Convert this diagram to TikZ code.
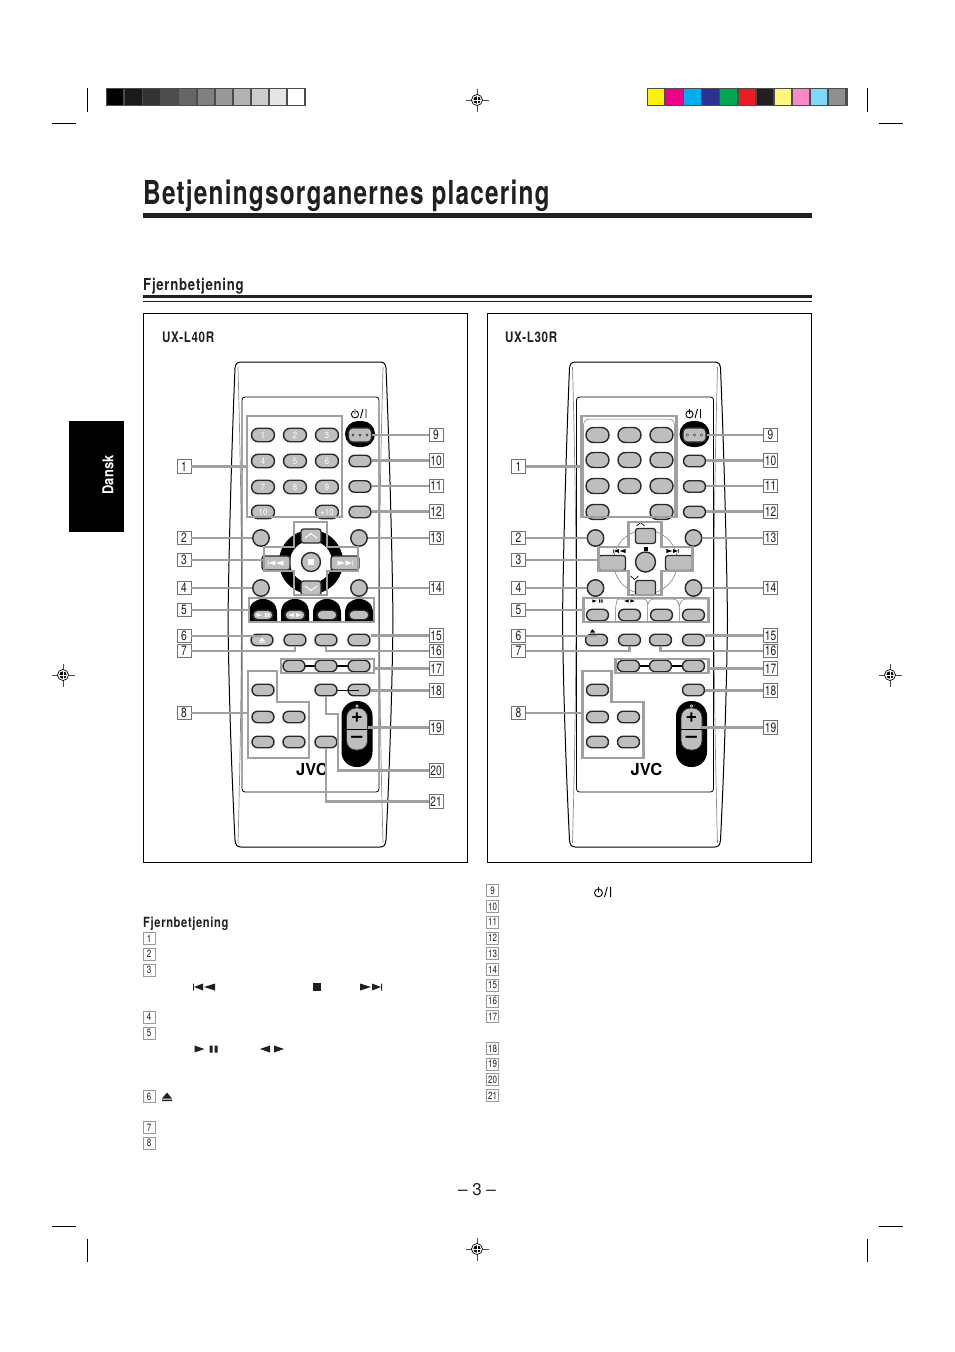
\documentclass[tikz,border=0pt]{standalone}
\usepackage{fontspec}
\setmainfont{TeX Gyre Heros}
\newfontfamily\cond[FakeStretch=0.76]{TeX Gyre Heros}
\newfontfamily\condsp[FakeStretch=0.74,LetterSpace=3.6]{TeX Gyre Heros}
\newfontfamily\semisp[FakeStretch=0.8,LetterSpace=4.5]{TeX Gyre Heros}
\newfontfamily\semi[FakeStretch=0.86]{TeX Gyre Heros}
\usetikzlibrary{shapes.misc}
\definecolor{ink}{HTML}{231F20}
\definecolor{keyfill}{HTML}{BEBEBE}
\definecolor{leadgrey}{HTML}{A0A0A0}
\definecolor{keyedge}{HTML}{2A2A2A}
\tikzset{
 x=1pt,y=-1pt,
 keyb/.style={rounded rectangle,draw=keyedge,line width=1.4pt,fill=keyfill,minimum width=22pt,minimum height=11.5pt,inner sep=0pt},
 numkeyL/.style={keyb,minimum width=23pt,minimum height=13.5pt,text=white,font=\semi\fontsize{9}{9}\selectfont},
 numkeyR/.style={keyb,minimum width=23pt,minimum height=15pt},
 roundkey/.style={circle,draw=keyedge,line width=1.4pt,fill=keyfill,minimum size=16.5pt,inner sep=0pt},
 squarekey/.style={rectangle,rounded corners=2.5pt,draw=keyedge,line width=1.3pt,fill=keyfill,inner sep=0pt},
 groupbox/.style={rectangle,draw=leadgrey,line width=2.6pt,inner sep=0pt},
 outlinebox/.style={draw=leadgrey,line width=2.6pt,line join=miter},
 leadline/.style={draw=leadgrey,line width=2.6pt},
 numbox/.style={rectangle,draw=black!55,line width=.7pt,fill=white,minimum width=14pt,minimum height=13.5pt,inner sep=0pt,text=ink,font=\cond\fontsize{13.5}{13.5}\selectfont},
 legbox/.style={rectangle,draw=black!40,line width=.7pt,fill=white,minimum width=12pt,minimum height=12pt,inner sep=0pt,text=ink,font=\cond\fontsize{10.5}{10.5}\selectfont},
 crop/.style={draw=black,line width=.9pt},
}
\newcommand\SymPrev[4]{\begin{scope}[shift={(#1,#2)},scale=#3]
 \fill[#4] (-11,-3.5) rectangle (-10.2,3.5) (-10,0) -- (-1,-3.5) -- (-1,3.5) -- cycle (0,0) -- (11,-3.5) -- (11,3.5) -- cycle;
\end{scope}}
\newcommand\SymNext[4]{\begin{scope}[shift={(#1,#2)},scale=#3]
 \fill[#4] (11,-3.5) rectangle (10.2,3.5) (10,0) -- (1,-3.5) -- (1,3.5) -- cycle (0,0) -- (-11,-3.5) -- (-11,3.5) -- cycle;
\end{scope}}
\newcommand\SymPlay[4]{\begin{scope}[shift={(#1,#2)},scale=#3]
 \fill[#4] (-11.5,-3.5) -- (-1.5,0) -- (-11.5,3.5) -- cycle (3.5,-3.5) rectangle (6.5,3.5) (8.5,-3.5) rectangle (11.5,3.5);
\end{scope}}
\newcommand\SymLR[4]{\begin{scope}[shift={(#1,#2)},scale=#3]
 \fill[#4] (-12,0) -- (-2,-3.5) -- (-2,3.5) -- cycle (12,0) -- (2,-3.5) -- (2,3.5) -- cycle;
\end{scope}}
\newcommand\SymEject[4]{\begin{scope}[shift={(#1,#2)},scale=#3]
 \fill[#4] (-5,2) -- (0,-4) -- (5,2) -- cycle (-5,3) rectangle (5,4.5);
\end{scope}}
\newcommand\SymPower[3]{\begin{scope}[shift={(#1,#2)},scale=#3]
 \draw[line width=.9pt,black] (-5,.8) circle[radius=3.6pt];
 \draw[line width=1.6pt,white] (-5,-3.2) -- (-5,-1);
 \draw[line width=.9pt,black] (-5,-4.5) -- (-5,.3) (.5,4.5) -- (3,-4.5) (6,-4.5) -- (6,4.5);
\end{scope}}
\newcommand\Reg[2]{\begin{scope}[shift={(#1,#2)}]
 \draw[black!70,line width=.5pt] (-11.5,0) -- (11.5,0) (0,-11.5) -- (0,11.5);
 \draw[black,line width=.7pt,fill=white] (0,0) circle[radius=5.5pt];
 \fill[black] (0,0) circle[radius=3.7pt];
 \draw[white,line width=.7pt] (-4,0) -- (4,0) (0,-4) -- (0,4);
\end{scope}}
\newcommand\Bump[1]{\fill[black] (#1-14,622) -- (#1-14,613) .. controls (#1-14,604) and (#1-8,599) .. (#1,599) .. controls (#1+8,599) and (#1+14,604) .. (#1+14,613) -- (#1+14,622) -- cycle;}
\newcommand\Shell{%
 \draw[black,line width=1pt,fill=white] (241,362) -- (380,362) .. controls (384,362) and (385.5,364) .. (386,368) .. controls (389,440) and (392,540) .. (393,620) .. controls (392,700) and (389,780) .. (386,840) .. controls (385.5,845) and (384,847) .. (380,847) -- (241,847) .. controls (237,847) and (235.5,845) .. (235,840) .. controls (232,780) and (229,700) .. (228,620) .. controls (229,540) and (232,440) .. (235,368) .. controls (235.5,364) and (237,362) .. (241,362) -- cycle;
 \draw[black!45,line width=.7pt] (238,367) .. controls (241,480) and (244,620) .. (238,843);
 \draw[black!45,line width=.7pt] (383,367) .. controls (380,480) and (377,620) .. (383,843);
 \draw[black,line width=.8pt,fill=white,rounded corners=3pt] (242,397) rectangle (379,792);
}
\newcommand\CommonKeys[1]{%
 \node[rounded rectangle,fill=black,minimum width=30pt,minimum height=26pt,inner sep=0pt] (#1blob) at (360,434) {};
 \node[squarekey,minimum width=23pt,minimum height=14pt,rounded corners=4pt] (#1k9) at (360,435) {};
 \foreach \dx in {-7,0,7} \fill[white,draw=black,line width=.3pt] (360+\dx,435) circle[radius=1.2pt];
 \node[keyb] (#1k10) at (360,461) {};
 \node[keyb] (#1k11) at (360,486.5) {};
 \node[keyb] (#1k12) at (360,512) {};
 \node[roundkey] (#1k2) at (261,538) {};
 \node[roundkey] (#1k13) at (359,538) {};
 \node[roundkey] (#1k4) at (261,588) {};
 \node[roundkey] (#1k14) at (359,588) {};
 \node[keyb] (#1k6) at (262,640) {};
 \node[keyb] (#1k7) at (295,640) {};
 \node[keyb] (#1k16) at (326,640) {};
 \node[keyb] (#1k15) at (359,640) {};
 \draw[black,line width=1.3pt] (294,666) -- (359,666);
 \node[keyb] (#1k17a) at (294,666) {};
 \node[keyb] (#1k17b) at (326,666) {};
 \node[keyb] (#1k17c) at (359,666) {};
 \node[keyb] (#1k18) at (359,690) {};
 \node[keyb] (#1k8a) at (263,690) {};
 \node[keyb] (#1k8b) at (263,717) {};
 \node[keyb] (#1k8c) at (294,717) {};
 \node[keyb] (#1k8d) at (263,742) {};
 \node[keyb] (#1k8e) at (294,742) {};
 \node[rectangle,fill=black,minimum width=31pt,minimum height=66pt,inner sep=0pt,rounded corners=15pt] (#1vol) at (357,734) {};
 \node[rectangle,rounded corners=9pt,draw=keyedge,line width=.9pt,fill=keyfill,minimum width=21pt,minimum height=42pt,inner sep=0pt] (#1volk) at (357,729) {};
 \draw[white,line width=.6pt] (357,706) circle[radius=1.3pt];
 \draw[black,line width=1pt] (#1volk.west) -- (#1volk.east);
 \node[font=\bfseries\fontsize{20}{20}\selectfont,inner sep=0pt,text=black] (#1plus) at (357,718) {+};
 \node[font=\bfseries\fontsize{20}{20}\selectfont,inner sep=0pt,text=black] (#1minus) at (357,739) {–};
 \node[font=\bfseries\fontsize{16.5}{16.5}\selectfont,inner sep=0pt,text=black] (#1jvc) at (312,769) {JVC};
 \SymPower{360}{413.5}{1}
}
\newcommand\CommonLeads[1]{%
 \node[groupbox,minimum width=95pt,minimum height=101pt] (#1g1) at (294.5,466.5) {};
 \node[groupbox,minimum width=125pt,minimum height=24pt] (#1g5) at (311.5,610) {};
 \node[groupbox,minimum width=93pt,minimum height=14pt] (#1g17) at (327.5,666) {};
 \coordinate (#1g3) at (264,559.5);
 \draw[outlinebox] (294,522) -- (327,522) -- (327,547) -- (358,547) -- (358,571) -- (327,571) -- (327,595) -- (294,595) -- (294,571) -- (264,571) -- (264,547) -- (294,547) -- cycle;
 \coordinate (#1g8) at (248,713);
 \draw[outlinebox] (248,671) -- (277,671) -- (277,702) -- (309,702) -- (309,758) -- (248,758) -- cycle;
 \foreach \n/\y in {1/466.5,2/538,3/560,4/588,5/610,6/636,7/651,8/713}
  \node[numbox] (#1l\n) at (184,\y) {\n};
 \foreach \n/\y in {9/435,10/460.5,11/486,12/511.5,13/538,14/588,15/635.5,16/651,17/668.5,18/690.5,19/727.5}
  \node[numbox] (#1l\n) at (436,\y) {\n};
 \draw[leadline] (#1l1.east) -- (#1l1.east -| #1g1.west);
 \draw[leadline] (#1l2.east) -- (#1l2.east -| #1k2.west);
 \draw[leadline] (#1l3.east) -- (#1l3.east -| #1g3);
 \draw[leadline] (#1l4.east) -- (#1l4.east -| #1k4.west);
 \draw[leadline] (#1l5.east) -- (#1l5.east -| #1g5.west);
 \draw[leadline] (#1l6.east) -- (#1l6.east -| #1k6);
 \draw[leadline] (#1l7.east) -| (#1k7.south);
 \draw[leadline] (#1l8.east) -- (#1g8);
 \draw[leadline] (#1l9.west) -- (#1l9.west -| #1k9.east);
 \draw[leadline] (#1l10.west) -- (#1l10.west -| #1k10.east);
 \draw[leadline] (#1l11.west) -- (#1l11.west -| #1k11.east);
 \draw[leadline] (#1l12.west) -- (#1l12.west -| #1k12.east);
 \draw[leadline] (#1l13.west) -- (#1l13.west -| #1k13.east);
 \draw[leadline] (#1l14.west) -- (#1l14.west -| #1k14.east);
 \draw[leadline] (#1l15.west) -- (#1l15.west -| #1k15.east);
 \draw[leadline] (#1l16.west) -| (#1k16.south);
 \draw[leadline] (#1l17.west) -- (#1l17.west -| #1g17.east);
 \draw[leadline] (#1l18.west) -- (#1l18.west -| #1k18.east);
 \draw[leadline] (#1l19.west) -- (#1l19.west -| #1volk.east);
}
\begin{document}
\begin{tikzpicture}
\useasboundingbox (0,0) rectangle (954,1352);
\foreach \ya/\yb in {88/112,1239/1262} \foreach \xx in {87.5,867.5} \draw[crop] (\xx,\ya) -- (\xx,\yb);
\foreach \yy in {123,1226} {\draw[crop] (52,\yy) -- (76,\yy); \draw[crop] (879,\yy) -- (903,\yy);}
\Reg{477}{100}\Reg{477}{1249}\Reg{63}{675}\Reg{890}{675}
\fill[black!70] (106,88) rectangle (306,106);
\foreach \i/\c in {0/000000,1/1A1A1A,2/333333,3/4D4D4D,4/666666,5/808080,6/999999,7/B3B3B3,8/CCCCCC,9/E6E6E6,10/FFFFFF}{
 \definecolor{cc}{HTML}{\c}
 \fill[cc] (107+18.1*\i,89) rectangle ++(16.4,16);}
\fill[black!70] (647,88) rectangle (848,106);
\foreach \i/\c in {0/FFF200,1/EC008C,2/00AEEF,3/2E3192,4/00A651,5/ED1C24,6/231F20,7/FFF67F,8/F888C8,9/80D8F8,10/8F8F8F}{
 \definecolor{cc}{HTML}{\c}
 \fill[cc] (648+18.1*\i,89) rectangle ++(16.4,16);}
\node[anchor=base west,inner sep=0pt,text=ink,font=\condsp\bfseries\fontsize{33}{33}\selectfont] (title) at (143,204.5) {Betjeningsorganernes placering};
\fill[ink] (143,213) rectangle (812,218);
\node[anchor=base west,inner sep=0pt,text=ink,font=\semisp\bfseries\fontsize{16.5}{16.5}\selectfont] (section) at (143,290) {Fjernbetjening};
\fill[ink] (143,295) rectangle (812,298);
\fill[ink] (143,300.6) rectangle (812,301.4);
\fill[black] (69,421) rectangle (124,532);
\node[rotate=90,text=white,inner sep=0pt,font=\semi\bfseries\fontsize{15}{15}\selectfont] (tab) at (108,475) {Dansk};
\draw[black,line width=1pt] (143.5,313.5) rectangle (467.5,862.5);
\draw[black,line width=1pt] (487.5,313.5) rectangle (811.5,862.5);
\node[anchor=base west,inner sep=0pt,text=ink,font=\semisp\bfseries\fontsize{14.5}{14.5}\selectfont] (modelL) at (162,342) {UX-L40R};
\node[anchor=base west,inner sep=0pt,text=ink,font=\semisp\bfseries\fontsize{14.5}{14.5}\selectfont] (modelR) at (505,342) {UX-L30R};
% left remote
\Shell
\fill[black] (311,562) circle[radius=32pt];
\fill[white] (311,562) circle[radius=21pt];
\Bump{263}\Bump{295}\Bump{327}\Bump{359}
\foreach \n/\x/\y/\t in {1/263/435/1,2/295/435/2,3/327/435/3,4/263/461/4,5/295/461/5,6/327/461/6,7/263/487/7,8/295/487/8,9/327/487/9,a/263/512/10,b/327/512/+10}
 \node[numkeyL] (Ln\n) at (\x,\y) {\t};
\node[squarekey,minimum width=20pt,minimum height=14pt] (Lup) at (311,536) {};
\node[squarekey,minimum width=20pt,minimum height=14pt] (Ldn) at (311,588) {};
\node[squarekey,minimum width=28pt,minimum height=14pt] (Lprev) at (276,563) {};
\node[squarekey,minimum width=28pt,minimum height=14pt] (Lnxt) at (345,563) {};
\node[roundkey,minimum size=19pt] (Lstop) at (311,562) {};
\draw[white,line width=1pt] (305,538) -- (311,533.5) -- (317,538) (305,586) -- (311,590.5) -- (317,586);
\SymPrev{276}{563}{.7}{white}\SymNext{345}{563}{.7}{white}
\fill[white] (308,559) rectangle (314,565);
\foreach \x in {263,295,327,359} \node[keyb,minimum width=20pt,minimum height=9.5pt] (Lb\x) at (\x,615) {};
\SymPlay{263}{615}{.55}{white}\SymLR{295}{615}{.55}{white}
\CommonKeys{L}
\SymEject{262}{640}{.6}{white}
\draw[black,line width=.6pt] (326,690) -- (359,690);
\node[keyb] (Lk20) at (326,690) {};
\node[keyb] (Lk21) at (326,742) {};
\CommonLeads{L}
\node[numbox] (Ll20) at (436,770.5) {20};
\node[numbox] (Ll21) at (436,801.5) {21};
\coordinate (Lc20) at (338,714);
\draw[leadline] (Ll20.west) -| (Lc20) -- (Lc20 -| Lk20) -- (Lk20.south);
\draw[leadline] (Ll21.west) -| (Lk21.south);
% right remote
\begin{scope}[shift={(334.5,0)}]
\Shell
\draw[black!55,line width=.5pt] (311,562) circle[radius=32pt];
\draw[black!55,line width=.5pt,rounded corners=6pt] (249,516) -- (249,419) -- (340,419) -- (340,516);
\draw[black!55,line width=.5pt,rounded corners=4pt] (281,622) -- (281,606) -- (283,599) (283,599) -- (313,599) -- (313,622) (313,606) -- (315,599) -- (343,599) -- (345,606) -- (345,622) (345,606) -- (347,599) -- (374,599);
\foreach \n/\x/\y in {1/263/435,2/295/435,3/327/435,4/263/460,5/295/460,6/327/460,7/263/486,8/295/486,9/327/486,a/263/512,b/327/512}
 \node[numkeyR] (Rn\n) at (\x,\y) {};
\node[squarekey,minimum width=20pt,minimum height=15pt] (Rup) at (311,536) {};
\node[squarekey,minimum width=20pt,minimum height=15pt] (Rdn) at (311,588) {};
\node[squarekey,minimum width=27pt,minimum height=15pt] (Rprev) at (277.5,563) {};
\node[squarekey,minimum width=27pt,minimum height=15pt] (Rnxt) at (344.5,563) {};
\node[roundkey,minimum size=20pt] (Rstop) at (311,562) {};
\draw[black,line width=.7pt] (302,526) -- (306,522.5) -- (310,526) (296,576) -- (300,579.5) -- (304,576);
\SymPrev{285}{551}{.55}{black}\SymNext{338}{551}{.55}{black}
\fill[black] (309,547) rectangle (313,551);
\foreach \x in {263,295,327,359} \node[keyb,minimum width=22pt,minimum height=11.5pt] (Rb\x) at (\x,615) {};
\SymPlay{263}{601}{.45}{black}\SymLR{295}{601}{.45}{black}
\CommonKeys{R}
\SymEject{258}{631}{.45}{black}
\CommonLeads{R}
\end{scope}
% legend
\node[anchor=base west,inner sep=0pt,text=ink,font=\semisp\bfseries\fontsize{14}{14}\selectfont] (legtitle) at (143,927) {Fjernbetjening};
\foreach \n/\y in {1/938.7,2/954,3/970,4/1017,5/1033,6/1096.7,7/1127.5,8/1143}
 \node[legbox] (m\n) at (149,\y) {\n};
\foreach \n/\y in {9/890.7,10/906.7,11/922,12/938,13/953.6,14/969.6,15/985,16/1001,17/1016.6,18/1048.6,19/1064,20/1079.6,21/1095.5}
 \node[legbox] (m\n) at (492.5,\y) {\n};
\SymPrev{204}{987}{1}{ink}
\fill[ink] (313,983) rectangle (321,991);
\SymNext{371}{987}{1}{ink}
\SymPlay{206}{1049}{1}{ink}
\SymLR{272}{1049}{1}{ink}
\SymEject{167}{1096.5}{1}{ink}
\SymPower{604}{892}{1.1}
\node[inner sep=0pt,text=ink,font=\fontsize{17}{17}\selectfont] (pagenum) at (477,1189.5) {– 3 –};
\end{tikzpicture}
\end{document}
